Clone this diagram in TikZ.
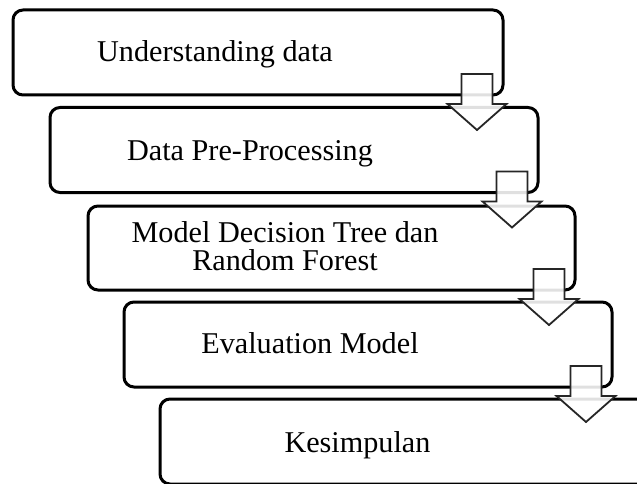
\documentclass[tikz,border=0pt]{standalone}
\usepackage{fontspec}
\setmainfont{Liberation Serif}
\begin{document}
\begin{tikzpicture}[x=1pt,y=1pt,
  stage/.style={draw=black, line width=3pt, rounded corners=10pt, minimum width=488pt, minimum height=85pt, inner sep=0pt},
  lbl/.style={font=\fontsize{30.2}{28}\selectfont, anchor=base, inner sep=0pt, align=center},
  blockarrow/.style={draw=black!85, line width=1.8pt, fill=white, fill opacity=0.88, line join=miter}]
\useasboundingbox (0,0) rectangle (637,483);
\clip (0,0) rectangle (637,483);
% boxes (y = 483 - pixel y)
\node[stage, minimum width=490pt] (b1) at (258,430.5) {};
\node[stage] (b2) at (294,333) {};
\node[stage, minimum width=487pt, minimum height=84pt] (b3) at (331.5,235) {};
\node[stage] (b4) at (368,138.5) {};
\node[stage] (b5) at (404,41.5) {};
% labels
\node[lbl] (t1) at (215,421) {Understanding data};
\node[lbl] (t2) at (250,323) {Data Pre-Processing};
\node[lbl] (t3) at (285,213) {Model Decision Tree dan\\Random Forest};
\node[lbl] (t4) at (310,130) {Evaluation Model};
\node[lbl] (t5) at (357.5,31) {Kesimpulan};
% arrow anchors
\foreach \i in {1,2,3,4}{
  \coordinate (a\i) at ([shift={(-27.5,22.5)}]b\i.south east);
  \draw[blockarrow] (a\i) ++(-15.5,0) -- ++(31,0) -- ++(0,-30) -- ++(14,0)
     -- ++(-29.5,-26) -- ++(-29.5,26) -- ++(14,0) -- cycle;
}
\end{tikzpicture}
\end{document}
